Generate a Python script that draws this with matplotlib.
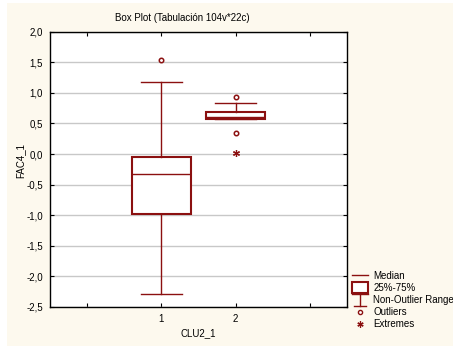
import numpy as np
import matplotlib
matplotlib.use("Agg")
import matplotlib.pyplot as plt
from matplotlib.lines import Line2D
from matplotlib.patches import Rectangle
from matplotlib.legend_handler import HandlerBase

# data
groups = ["1", "2"]
positions = [1, 2]
medians = [-0.33, 0.61]
q1 = [-0.98, 0.57]
q3 = [-0.04, 0.69]
whis_lo = [-2.29, 0.57]
whis_hi = [1.17, 0.84]
outliers = [[1.53], [0.93, 0.34]]
extremes = [[], [0.02]]

RED = "#8b1010"
CREAM = "#fdf9ee"

plt.rcParams["font.family"] = ["Liberation Sans", "DejaVu Sans"]
plt.rcParams["font.size"] = 7


class WhiskerHandler(HandlerBase):
    """legend glyph for the non-outlier range (I-shaped whisker)"""

    def create_artists(self, legend, orig_handle, xd, yd, w, h, fontsize, trans):
        cx = xd + w / 2
        top = yd + h * 1.4
        bot = yd - h * 0.4
        a = Line2D([xd, xd + w], [top, top], color=RED, lw=1, transform=trans)
        b = Line2D([cx, cx], [top, bot], color=RED, lw=1, transform=trans)
        c = Line2D([xd + w * 0.15, xd + w * 0.85], [bot, bot], color=RED, lw=1, transform=trans)
        return [a, b, c]


class BoxHandler(HandlerBase):
    def create_artists(self, legend, orig_handle, xd, yd, w, h, fontsize, trans):
        r = Rectangle((xd, yd - h * 0.35), w, h * 1.7, fc="white", ec=RED, lw=1.5, transform=trans)
        return [r]


fig = plt.figure(figsize=(4.53, 3.46), dpi=100, facecolor="white")
fig.patches.append(Rectangle((7 / 453, 0), 1, 1 - 3 / 346, transform=fig.transFigure,
                             fc=CREAM, ec="none", zorder=-10))
ax = fig.add_axes([50 / 453, 1 - 307 / 346, 297 / 453, 275.3 / 346])
ax.set_facecolor("white")

stats = []
for i in range(len(groups)):
    stats.append(dict(med=medians[i], q1=q1[i], q3=q3[i], whislo=whis_lo[i],
                      whishi=whis_hi[i], fliers=[], label=groups[i]))

ax.bxp(stats, positions=positions, widths=0.8, capwidths=0.55, showfliers=False,
       patch_artist=True,
       boxprops=dict(facecolor="white", edgecolor=RED, linewidth=1.5),
       medianprops=dict(color=RED, linewidth=1),
       whiskerprops=dict(color=RED, linewidth=1),
       capprops=dict(color=RED, linewidth=1), zorder=3)

for p, vals in zip(positions, outliers):
    ax.plot([p] * len(vals), vals, "o", ms=3.2, mfc="white", mec=RED, mew=1.1, zorder=4)
for p, vals in zip(positions, extremes):
    ax.plot([p] * len(vals), vals, ls="none", marker=(6, 2, 0), ms=5, mec=RED, mew=0.9, zorder=4)

ax.set_xlim(-0.5, 3.5)
ax.set_ylim(-2.5, 2.0)
ax.set_xticks([0, 1, 2, 3])
ax.set_xticklabels(["", "1", "2", ""])
yt = np.arange(-2.5, 2.01, 0.5)
ax.set_yticks(yt)
ax.set_yticklabels([f"{v:.1f}".replace(".", ",") for v in yt])
ax.tick_params(direction="in", length=3, width=0.8, top=True, right=True, pad=5, labelsize=7)
ax.grid(axis="y", color="#c8c8c8", lw=1)
ax.set_axisbelow(True)
for s in ax.spines.values():
    s.set_linewidth(1)

fig.text(182 / 453, 1 - 18 / 346, "Box Plot (Tabulación 104v*22c)", ha="center", va="center", fontsize=7)
ax.set_xlabel("CLU2_1", fontsize=7, labelpad=3)
fig.text(20 / 453, 1 - 161 / 346, "FAC4_1", rotation=90, ha="center", va="center", fontsize=7)

handles = [Line2D([], [], color=RED, lw=1),
           Rectangle((0, 0), 1, 1),
           Line2D([], [], color=RED),
           Line2D([], [], ls="none", marker="o", ms=3, mfc="white", mec=RED, mew=1),
           Line2D([], [], ls="none", marker=(6, 2, 0), ms=4.5, mec=RED, mew=0.9)]
labels = ["Median", "25%-75%", "Non-Outlier Range", "Outliers", "Extremes"]
leg = fig.legend(handles, labels, loc="upper left", bbox_to_anchor=(348 / 453, 1 - 267 / 346),
                 frameon=False, fontsize=7, handlelength=1.65, handletextpad=0.55,
                 labelspacing=0.22, borderaxespad=0,
                 handler_map={handles[1]: BoxHandler(), handles[2]: WhiskerHandler()})

fig.savefig("out.png", dpi=100, facecolor=fig.get_facecolor())
